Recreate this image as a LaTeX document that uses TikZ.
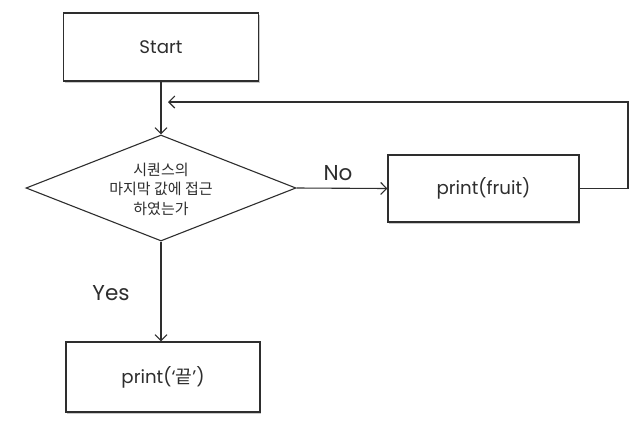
\documentclass[tikz,border=0pt]{standalone}
\usepackage{fontspec}
\setmainfont{Poppins}
\newfontfamily\krfont{Noto Sans CJK KR}
\usetikzlibrary{arrows.meta,shapes.geometric,shadows}
\definecolor{ink}{HTML}{2E2E2E}
\tikzset{
  box/.style={draw=ink, line width=1.1pt, fill=white, inner sep=0pt,
    drop shadow={shadow xshift=1.2pt, shadow yshift=-1.8pt, opacity=0.35, fill=black!60}},
  decision/.style={draw=ink, line width=1.1pt, diamond, inner sep=0pt,
    minimum width=270pt, minimum height=106pt},
  flow/.style={draw=ink, line width=1.1pt, -{Straight Barb[length=6pt,width=12pt,line width=1.1pt]}},
  boxtext/.style={font=\fontsize{18.2}{21}\selectfont, text=ink},
  edgetext/.style={font=\fontsize{21.5}{24}\selectfont, text=ink},
}
\begin{document}
\begin{tikzpicture}[x=1pt,y=-1pt]
  \useasboundingbox (0,0) rectangle (644,437);
  \fill[white] (0,0) rectangle (644,437);

  % process boxes
  \node[box, minimum width=195pt, minimum height=68pt, boxtext] (start) at (161,47) {Start};
  \node[decision] (check) at (161,188) {};
  \node[align=center, font=\krfont\fontsize{15}{19.5}\selectfont, text=ink] (checktext) at (161,189)
    {시퀀스의\\마지막 값에 접근\\하였는가};
  \node[box, minimum width=191pt, minimum height=67pt, boxtext] (body) at (483.5,188.5) {print(fruit)};
  \node[box, minimum width=194pt, minimum height=70pt, boxtext] (done) at (163,377)
    {print(‘{\krfont 끝}’)};

  % branch labels
  \node[edgetext] (nolabel) at (338,173) {No};
  \node[edgetext] (yeslabel) at (111,293) {Yes};

  % connectors
  \coordinate (loopend) at (168,102);
  \draw[flow] (start.south -| check.north) -- (check.north);
  \draw[flow] (check.east) -- (body.west);
  \draw[flow] (body.east) -- (628,188.5) -- (628,102) -- (loopend);
  \draw[flow] (check.south) -- (check.south |- done.north);
\end{tikzpicture}
\end{document}
